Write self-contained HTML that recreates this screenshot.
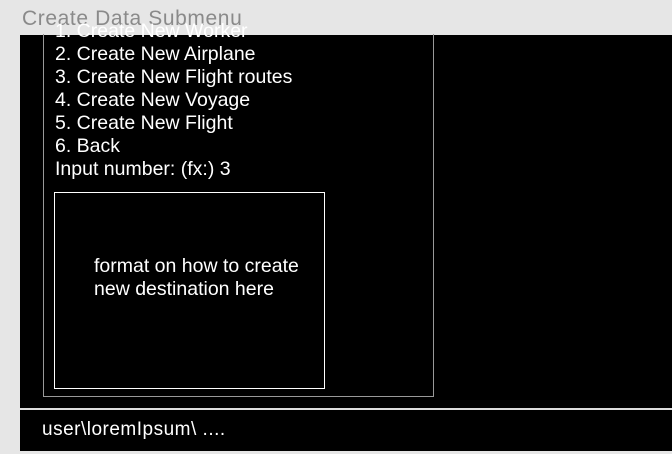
<!DOCTYPE html>
<html><head><style>
body{margin:0;width:672px;height:454px;background:#e6e6e6;position:relative;overflow:hidden;font-family:"Liberation Sans",sans-serif;}
.a{position:absolute}
.t{color:#fff;font-size:19.5px;line-height:23px;white-space:nowrap}
</style></head><body>
<div class="a" style="left:20px;top:35px;width:652px;height:416px;background:#000"></div>
<div class="a" style="left:43px;top:34px;width:389px;height:362px;border:1px solid #999;border-top:none"></div>
<div class="a t" style="left:22px;top:7px;color:#8a8a8a;font-size:21px;letter-spacing:0.6px">Create Data Submenu</div>
<div class="a t" style="left:55px;top:20px">1. Create New Worker<br>2. Create New Airplane<br>3. Create New Flight routes<br>4. Create New Voyage<br>5. Create New Flight<br>6. Back<br>Input number: (fx:) 3</div>
<div class="a" style="left:54px;top:192px;width:269px;height:195px;border:1px solid #fff"></div>
<div class="a t" style="left:94px;top:255px">format on how to create<br>new destination here</div>
<div class="a" style="left:20px;top:408px;width:652px;height:2px;background:#ddd"></div>
<div class="a t" style="left:42px;top:418px;font-size:19px;letter-spacing:0.5px">user\loremIpsum\ ....</div>
</body></html>
